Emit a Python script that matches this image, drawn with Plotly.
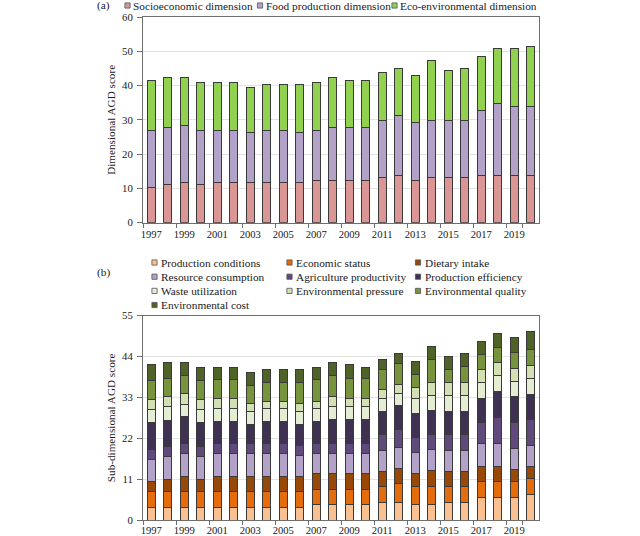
import plotly.graph_objects as go

years = [str(y) for y in range(1997, 2021)]
tick_labels = [str(y) for y in range(1997, 2021, 2)]

# ---- Panel (a): dimensional AGD scores ----
socioeconomic = [10.3, 11.2, 11.7, 11.2, 11.7, 11.7, 11.7, 11.7, 11.7, 11.7,
                 12.4, 12.4, 12.4, 12.4, 13.2, 13.8, 12.4, 13.2, 13.2, 13.2,
                 13.8, 13.8, 13.8, 13.8]
food_production = [16.7, 16.5, 16.6, 15.8, 15.3, 15.3, 14.5, 15.3, 15.3, 14.5,
                   14.6, 15.3, 15.3, 15.3, 16.7, 17.4, 16.7, 16.7, 16.7, 16.7,
                   18.8, 20.9, 20.2, 20.2]
eco_environmental = [14.6, 14.6, 14.0, 13.9, 13.9, 13.9, 13.3, 13.3, 13.3, 14.1,
                     13.9, 14.6, 13.9, 13.9, 13.8, 13.9, 13.9, 17.4, 14.6, 15.2,
                     16.0, 16.0, 16.7, 17.5]

# ---- Panel (b): sub-dimensional AGD scores ----
production_conditions = [3.4, 3.4, 3.4, 3.4, 3.4, 3.4, 3.4, 3.4, 3.4, 3.4,
                         4.1, 4.1, 4.1, 4.1, 4.8, 4.8, 4.1, 4.1, 4.8, 4.8,
                         6.1, 6.1, 6.1, 6.9]
economic_status = [4.2, 4.2, 4.2, 4.2, 4.2, 4.2, 4.2, 4.2, 4.2, 4.2,
                   4.2, 4.2, 4.2, 4.2, 4.2, 4.9, 5.0, 5.0, 4.2, 4.2,
                   4.2, 4.2, 4.2, 4.2]
dietary_intake = [2.7, 3.3, 4.1, 3.3, 4.1, 4.1, 4.1, 4.1, 4.1, 4.1,
                  4.1, 4.1, 4.1, 4.1, 4.1, 4.2, 3.4, 4.1, 4.1, 4.1,
                  4.1, 4.1, 3.4, 3.3]
resource_consumption = [6.1, 6.3, 6.3, 6.3, 6.3, 6.3, 6.3, 6.3, 6.3, 5.6,
                        5.6, 5.6, 5.6, 5.6, 5.7, 5.6, 5.6, 5.7, 5.7, 5.7,
                        6.3, 6.3, 5.6, 5.6]
agriculture_productivity = [2.7, 2.7, 2.7, 2.7, 2.7, 2.7, 2.7, 2.7, 2.7, 2.7,
                            2.7, 2.7, 2.7, 2.7, 4.1, 4.8, 4.1, 4.1, 4.1, 4.1,
                            5.6, 6.9, 6.9, 7.0]
production_efficiency = [7.2, 7.0, 7.2, 6.4, 5.7, 5.7, 5.0, 5.7, 5.7, 5.7,
                         5.7, 6.3, 6.3, 6.3, 6.4, 6.5, 6.5, 6.4, 6.4, 6.4,
                         6.4, 7.1, 7.0, 6.9]
waste_utilization = [3.5, 3.6, 3.3, 3.5, 3.5, 3.5, 3.5, 3.5, 3.5, 3.5,
                     3.5, 3.6, 3.6, 3.6, 3.4, 3.3, 4.1, 4.1, 4.1, 4.1,
                     4.2, 4.1, 4.2, 4.2]
environmental_pressure = [2.7, 2.7, 2.8, 2.7, 2.7, 2.7, 2.1, 2.1, 2.1, 2.1,
                          2.1, 2.7, 2.0, 2.0, 2.3, 2.3, 2.9, 3.6, 3.6, 3.6,
                          3.5, 3.5, 3.4, 3.5]
environmental_quality = [5.1, 4.9, 4.9, 5.1, 5.1, 5.1, 5.0, 5.0, 5.0, 5.7,
                         5.7, 5.6, 5.6, 5.6, 5.6, 5.6, 3.4, 6.2, 3.5, 4.2,
                         4.1, 4.2, 4.2, 4.2]
environmental_cost = [4.2, 4.3, 3.6, 3.4, 3.4, 3.4, 3.5, 3.5, 3.5, 3.5,
                      3.4, 3.6, 3.6, 2.9, 2.7, 2.8, 3.6, 3.5, 3.4, 3.5,
                      3.5, 3.7, 4.2, 5.0]

series_a = [
    ("Socioeconomic dimension", socioeconomic, "#D99694"),
    ("Food production dimension", food_production, "#B3A2C7"),
    ("Eco-environmental dimension", eco_environmental, "#92D050"),
]
series_b = [
    ("Production conditions", production_conditions, "#FAC090"),
    ("Economic status", economic_status, "#E46C0A"),
    ("Dietary intake", dietary_intake, "#984807"),
    ("Resource consumption", resource_consumption, "#B3A2C7"),
    ("Agriculture productivity", agriculture_productivity, "#604A7B"),
    ("Production efficiency", production_efficiency, "#3F3151"),
    ("Waste utilization", waste_utilization, "#E4EDD3"),
    ("Environmental pressure", environmental_pressure, "#D2E0B4"),
    ("Environmental quality", environmental_quality, "#77933C"),
    ("Environmental cost", environmental_cost, "#4F6228"),
]

FONT = "'Times New Roman', 'Liberation Serif', Times, serif"
TXT = "#1a1a1a"
EDGE = "#3a3a3a"
AXC = "#6e6e6e"

# layout geometry (pixels)
W, H = 640, 536
L, R, T, B = 143, 101, 17, 16
PW, PH = W - L - R, H - T - B


def px(x):
    return (x - L) / PW


def py(y):
    return (H - B - y) / PH


fig = go.Figure()
for name, vals, col in series_a:
    fig.add_trace(go.Bar(x=years, y=vals, name=name, marker_color=col,
                         marker_line=dict(color=EDGE, width=1),
                         xaxis="x", yaxis="y", showlegend=False))
for name, vals, col in series_b:
    fig.add_trace(go.Bar(x=years, y=vals, name=name, marker_color=col,
                         marker_line=dict(color=EDGE, width=1),
                         xaxis="x2", yaxis="y2", showlegend=False))

xcommon = dict(type="category", tickmode="array", tickvals=tick_labels,
               ticktext=tick_labels, tickson="boundaries", ticks="outside",
               tickangle=0, ticklen=4, tickcolor=AXC, showline=True,
               linecolor=AXC, mirror=True, showgrid=False,
               tickfont=dict(family=FONT, size=10.6, color=TXT))
ycommon = dict(ticks="outside", ticklen=5, tickcolor=AXC, showline=True,
               linecolor=AXC, mirror=True, showgrid=True, gridcolor="#e3e3e3",
               zeroline=False, ticklabelstandoff=2,
               tickfont=dict(family=FONT, size=10.8, color=TXT))

fig.update_layout(
    width=W, height=H,
    margin=dict(l=L, r=R, t=T, b=B, autoexpand=False),
    paper_bgcolor="white", plot_bgcolor="white",
    font=dict(family=FONT, size=11.3, color=TXT),
    barmode="stack", bargap=0.5,
    showlegend=False,
    xaxis=dict(domain=[0, 1], anchor="y", ticklabelstandoff=2, **xcommon),
    yaxis=dict(domain=[py(222.7), 1], anchor="x", range=[0, 60], dtick=10,
               title=dict(text="Dimensional AGD score", standoff=4,
                          font=dict(family=FONT, size=11.2)), **ycommon),
    xaxis2=dict(domain=[0, 1], anchor="y2", ticklabelstandoff=0, **xcommon),
    yaxis2=dict(domain=[0, py(315.7)], anchor="x2", range=[0, 55], dtick=11,
                title=dict(text="Sub-dimensional AGD score", standoff=4,
                           font=dict(family=FONT, size=11.2)), **ycommon),
)

# legend-style keys (text + swatches) laid out as in the original figure
shapes, annots = [], []


def key(cx, cy, name, col, tx):
    shapes.append(dict(type="rect", xref="paper", yref="paper",
                       xsizemode="pixel", ysizemode="pixel",
                       xanchor=px(cx), yanchor=py(cy), x0=-2.6, x1=2.6,
                       y0=-2.6, y1=2.6,
                       fillcolor=col, line=dict(color="#555555", width=0.8)))
    annots.append(dict(xref="paper", yref="paper", x=px(tx), y=py(cy),
                       xanchor="left", yanchor="middle", showarrow=False,
                       borderpad=0,
                       text=name, font=dict(family=FONT, size=11.3, color=TXT)))


a_pos = [(127.5, 131.5), (260, 264.5), (394.5, 399)]
for (name, _, col), (cx, tx) in zip(series_a, a_pos):
    key(cx, 5.5, name, col, tx)

col_x = [(154.5, 160), (289.5, 295), (418, 423.5)]
row_y = [262.5, 276.7, 290.9, 305]
for i, (name, _, col) in enumerate(series_b):
    c, r = i % 3, i // 3
    key(col_x[c][0], row_y[r], name, col, col_x[c][1])

for lab, yy in (("(a)", 5.5), ("(b)", 272.5)):
    annots.append(dict(xref="paper", yref="paper", x=px(103), y=py(yy),
                       xanchor="center", yanchor="middle", showarrow=False,
                       borderpad=0,
                       text=lab, font=dict(family=FONT, size=11.3, color=TXT)))

fig.update_layout(shapes=shapes, annotations=annots)
fig.write_html("out.html",
               config={"displayModeBar": False, "staticPlot": True},
               post_script="document.body.style.margin='0px';"
                           "document.body.style.overflow='hidden';")
